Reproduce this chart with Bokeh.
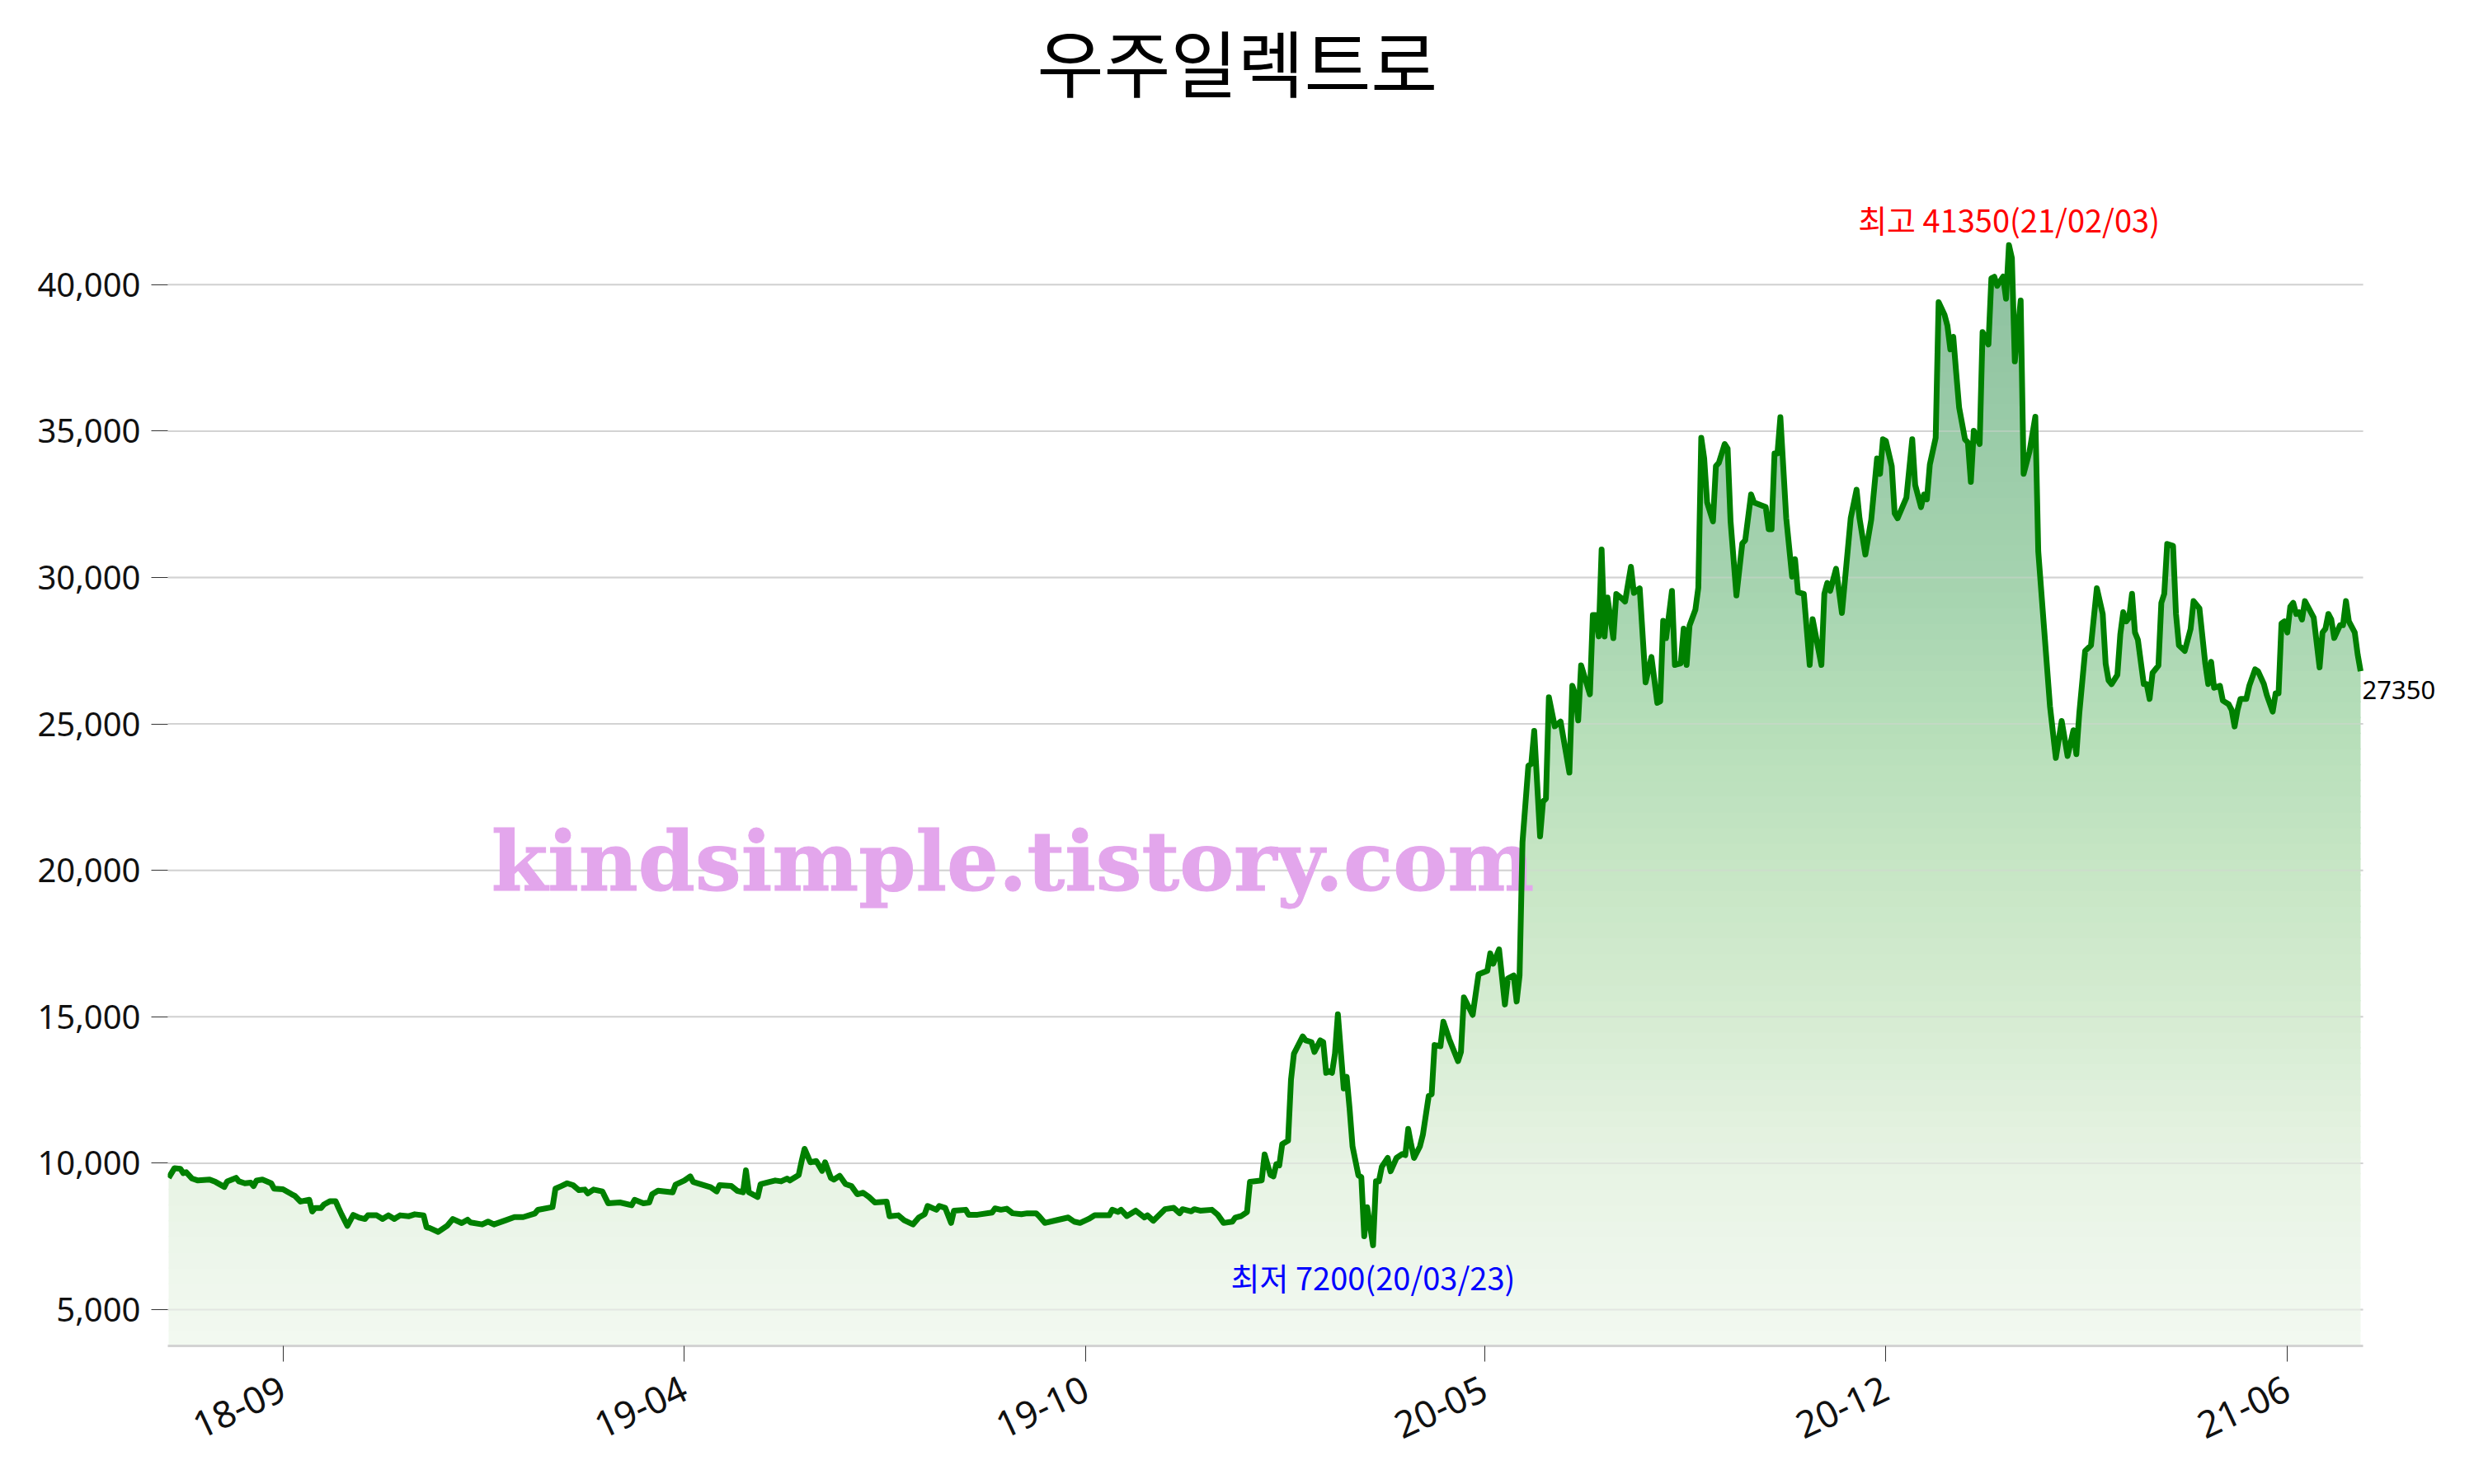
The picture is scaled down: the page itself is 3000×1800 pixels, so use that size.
import numpy as np
from bokeh.plotting import figure
from bokeh.models import Range1d, FixedTicker, NumeralTickFormatter, Label
from bokeh.core.properties import value
from bokeh.embed import file_html
from bokeh.resources import INLINE

title_text = "우주일렉트로"
watermark = "kindsimple.tistory.com"
high_date = "21/02/03"
low_date = "20/03/23"
last_close = 27350

# trading-day index and closing price
days = [0, 2, 4, 5, 6, 8, 10, 14, 16, 19, 20, 23, 24, 26, 28, 29, 30, 32, 35, 36, 39, 42, 43, 45, 48, 49, 50, 52, 53, 55,
        57, 58, 59, 61, 63, 65, 67, 68, 71, 73, 75, 77, 79, 82, 84, 87, 88, 89, 92, 95, 97, 100, 102, 103, 107, 109, 111, 115, 118, 121,
        125, 126, 131, 132, 134, 136, 138, 140, 142, 143, 145, 148, 150, 154, 158, 159, 162, 164, 165, 167, 172, 173, 176, 178, 179, 182, 185, 187, 188, 192,
        194, 196, 197, 198, 201, 202, 205, 207, 209, 211, 212, 215, 216, 217, 219, 221, 223, 224, 226, 227, 229, 231, 233, 235, 237, 239, 241, 245, 246, 249,
        251, 254, 256, 258, 259, 262, 263, 265, 267, 268, 272, 273, 276, 281, 282, 284, 286, 288, 291, 293, 296, 297, 299, 303, 307, 309, 311, 314, 316, 321,
        322, 324, 325, 327, 330, 333, 334, 336, 340, 343, 345, 346, 349, 350, 352, 356, 358, 360, 363, 364, 366, 368, 369, 373, 374, 376, 377, 378, 379, 380,
        382, 383, 384, 387, 388, 390, 391, 393, 394, 395, 396, 397, 398, 399, 401, 402, 403, 404, 406, 407, 408, 409, 411, 412, 413, 414, 416, 417, 419, 421,
        422, 423, 424, 425, 427, 428, 430, 431, 432, 434, 435, 437, 440, 441, 442, 445, 447, 450, 451, 452, 454, 456, 457, 459, 460, 461, 462, 464, 465, 466,
        468, 469, 470, 471, 473, 475, 478, 479, 480, 481, 482, 485, 486, 487, 488, 489, 490, 491, 493, 494, 496, 497, 499, 500, 502, 504, 506, 508, 509, 510,
        511, 513, 514, 516, 517, 518, 519, 521, 522, 523, 524, 525, 527, 528, 529, 531, 532, 533, 535, 537, 538, 540, 541, 545, 546, 547, 548, 549, 550, 552,
        554, 555, 556, 558, 560, 561, 564, 565, 566, 567, 569, 571, 574, 576, 577, 579, 580, 581, 583, 584, 585, 586, 588, 589, 590, 593, 595, 596, 598, 599,
        600, 601, 603, 604, 606, 607, 608, 609, 610, 611, 613, 614, 615, 616, 618, 619, 621, 622, 623, 624, 626, 627, 628, 629, 630, 632, 633, 635, 637, 638,
        640, 642, 644, 646, 648, 650, 651, 652, 654, 656, 658, 660, 661, 662, 663, 665, 666, 667, 668, 669, 670, 671, 672, 674, 675, 676, 677, 679, 680, 681,
        682, 684, 685, 686, 688, 690, 691, 693, 695, 696, 697, 698, 700, 701, 703, 704, 705, 706, 707, 709, 710, 712, 713, 715, 716, 718, 719, 720, 721, 722,
        723, 724, 725, 726, 727, 728, 729, 732, 734, 735, 736, 737, 738, 739, 741, 742, 743, 744, 746, 747, 748]

prices = [9500, 9830, 9810, 9660, 9690, 9475, 9410, 9440, 9360, 9190, 9380, 9500, 9380, 9315, 9335, 9220, 9410, 9440, 9315, 9130, 9110, 8940, 8890, 8690, 8750, 8350, 8470, 8470, 8590, 8700,
          8700, 8470, 8255, 7860, 8235, 8140, 8095, 8220, 8220, 8095, 8220, 8095, 8220, 8190, 8255, 8220, 7815, 7790, 7655, 7860, 8095, 7955, 8070, 7975, 7910, 8005, 7910, 8050, 8160, 8160,
          8285, 8405, 8500, 9130, 9220, 9315, 9250, 9080, 9100, 8970, 9100, 9035, 8630, 8660, 8565, 8750, 8630, 8660, 8940, 9060, 9005, 9270, 9410, 9550, 9360, 9270, 9175, 9035, 9250, 9220,
          9060, 9005, 9755, 9005, 8845, 9285, 9360, 9410, 9380, 9475, 9410, 9595, 10065, 10490, 10030, 10075, 9740, 10030, 9500, 9440, 9570, 9285, 9220, 8940, 8990, 8845, 8660, 8690, 8190, 8220,
          8050, 7910, 8145, 8260, 8540, 8410, 8540, 8475, 7960, 8380, 8410, 8240, 8240, 8315, 8455, 8410, 8445, 8290, 8260, 8290, 8290, 8195, 7960, 8055, 8145, 8005, 7960, 8100, 8220, 8220,
          8410, 8335, 8410, 8195, 8380, 8145, 8220, 8035, 8430, 8475, 8290, 8430, 8355, 8430, 8380, 8410, 8240, 7960, 8005, 8145, 8195, 8335, 9365, 9410, 10300, 9600, 9550, 9970, 9925, 10650,
          10770, 12850, 13740, 14330, 14195, 14135, 13800, 14195, 14135, 13085, 13145, 13085, 13740, 15085, 12550, 12950, 11860, 10575, 9585, 9525, 7505, 8495, 7200, 9385, 9385, 9880, 10180, 9725, 10180, 10315,
          10275, 11170, 10635, 10180, 10575, 10970, 12295, 12355, 14035, 13995, 14830, 14235, 13485, 13800, 15660, 15065, 16450, 16570, 17165, 16810, 17300, 15420, 16310, 16410, 15520, 16410, 20965, 23575, 23635, 24765,
          21160, 22350, 22450, 25910, 24920, 25080, 23340, 26305, 26010, 25120, 27000, 26010, 28720, 28720, 27990, 30960, 27990, 29315, 27930, 29435, 29275, 29180, 30365, 29475, 29630, 26420, 27285, 25720, 25775, 28525,
          27930, 29545, 27015, 27070, 28255, 27015, 28360, 28900, 29655, 34775, 34070, 32565, 31920, 33805, 33915, 34560, 34400, 31920, 29385, 31165, 31270, 32835, 32565, 32405, 31650, 31650, 34235, 34235, 35475, 32025,
          30030, 30625, 29495, 29440, 27015, 28580, 27015, 29440, 29815, 29545, 30300, 28790, 32025, 33000, 32025, 30785, 31380, 31970, 34070, 33535, 34720, 34665, 33805, 32190, 32025, 32725, 34720, 33160, 32405, 32835,
          32670, 33855, 34775, 39405, 38975, 38600, 37790, 38220, 36985, 35800, 34720, 34610, 33265, 35010, 34560, 38385, 37955, 40215, 40270, 39960, 40275, 39520, 41350, 40910, 37380, 39460, 33540, 34295, 35490, 30895,
          28250, 25605, 23840, 25100, 23905, 24785, 23970, 25355, 27495, 27685, 29635, 28755, 27055, 26485, 26360, 26675, 28060, 28815, 28500, 28630, 29445, 28125, 27875, 26360, 26360, 25855, 26740, 26990, 29135, 29445,
          31145, 31080, 28755, 27685, 27495, 28250, 29195, 28945, 27055, 26360, 27120, 26235, 26300, 25795, 25670, 25480, 24915, 25480, 25855, 25855, 26300, 26865, 26800, 26360, 25985, 25420, 26045, 26045, 28435, 28500,
          28125, 29005, 29135, 28755, 28815, 28565, 29195, 28630, 26930, 28125, 28250, 28755, 28565, 27935, 28375, 28375, 29195, 28500, 28125, 27370, 26800]

tick_days = [39, 176, 313, 449, 586, 723]
tick_labels = ["18-09", "19-04", "19-10", "20-05", "20-12", "21-06"]
y_ticks = [5000, 10000, 15000, 20000, 25000, 30000, 35000, 40000]

# gradient stops for the area fill (value -> rgb)
grad_v = [3761, 10000, 15000, 20000, 25000, 30000, 35000, 41350]
grad_rgb = [(243, 249, 241), (231, 243, 228), (214, 236, 210), (199, 230, 197),
            (182, 222, 185), (165, 211, 175), (154, 203, 168), (140, 191, 158)]

X0, X1 = -0.28, 781.77     # frame spans whole drawing width (labels live inside it)
AXIS_END = 748.84          # where the x axis / grid stop
Y0, Y1 = 3761, 49707

p = figure(width=2984, height=1784, output_backend="svg", toolbar_location=None,
           title_location=None,
           x_range=Range1d(X0, X1), y_range=Range1d(Y0, Y1),
           min_border_left=203, min_border_right=2, min_border_top=0, min_border_bottom=152)
p.outline_line_color = None
p.background_fill_color = "white"
p.border_fill_color = "white"
p.xgrid.visible = False
p.ygrid.visible = False

d = np.array(days, dtype=float)
v = np.array(prices, dtype=float)


def clip_poly(xs, ys, lo, hi):
    bx, by = [xs[0]], [min(max(ys[0], lo), hi)]
    for i in range(1, len(xs)):
        xa, ya, xb, yb = xs[i - 1], ys[i - 1], xs[i], ys[i]
        cs = []
        for lev in (lo, hi):
            if (ya - lev) * (yb - lev) < 0:
                t = (lev - ya) / (yb - ya)
                cs.append((t, xa + t * (xb - xa), lev))
        for t, cx, cy in sorted(cs):
            bx.append(cx)
            by.append(cy)
        bx.append(xb)
        by.append(min(max(yb, lo), hi))
    return bx, by


n_grid = len(y_ticks)
# grid lines under the fill
p.segment(x0=[X0] * n_grid, y0=y_ticks, x1=[AXIS_END] * n_grid, y1=y_ticks,
          line_color="#d3d3d3", line_width=2)

n_bands = 70
edges = np.linspace(Y0, v.max(), n_bands + 1)
for k in range(n_bands):
    lo, hi = edges[k], edges[k + 1]
    lo2 = lo - 45 if k > 0 else lo
    bx, by = clip_poly(d, v, lo2, hi)
    mid = 0.5 * (lo + hi)
    rgb = [int(round(np.interp(mid, grad_v, [c[i] for c in grad_rgb]))) for i in range(3)]
    col = "#%02x%02x%02x" % tuple(rgb)
    p.varea(x=bx, y1=lo2, y2=by, fill_color=col, fill_alpha=1.0)

# grid lines faintly over the fill
p.segment(x0=[X0] * n_grid, y0=y_ticks, x1=[AXIS_END] * n_grid, y1=y_ticks,
          line_color="#d3d3d3", line_width=2, line_alpha=0.45)

# watermark
p.text(x=[288], y=[20300], text=[watermark], text_font=value("DejaVu Serif"),
       text_font_style="bold", text_font_size="99px", text_color="#e3a6ec",
       text_outline_color="#e3a6ec",
       text_align="center", text_baseline="middle")

p.line(d, v, line_color="#008000", line_width=7, line_join="round")

imax = int(np.argmax(v))
imin = int(np.argmin(v))
p.add_layout(Label(x=d[imax], y=v[imax], text=f"최고 {int(v[imax])}({high_date})",
                   text_color="red", text_font="Noto Sans CJK KR", text_font_size="38px",
                   text_align="center", text_baseline="bottom", y_offset=4))
p.add_layout(Label(x=d[imin], y=v[imin], text=f"최저 {int(v[imin])}({low_date})",
                   text_color="blue", text_font="Noto Sans CJK KR", text_font_size="38px",
                   text_align="center", text_baseline="top", y_offset=-11))
p.add_layout(Label(x=d[-1], y=v[-1], text=str(last_close),
                   text_color="black", text_font="Noto Sans", text_font_size="31px",
                   text_align="left", text_baseline="top", x_offset=2, y_offset=-12))
p.add_layout(Label(x=364.7, y=47680, text=title_text,
                   text_color="black", text_font="Noto Sans CJK KR", text_font_size="88px",
                   text_align="center", text_baseline="middle"))

# axes
p.xaxis.bounds = (X0, AXIS_END)
p.xaxis.ticker = FixedTicker(ticks=tick_days)
p.xaxis.major_label_overrides = {t: l for t, l in zip(tick_days, tick_labels)}
p.xaxis.major_label_orientation = np.deg2rad(25)
p.xaxis.axis_line_color = "#d3d3d3"
p.xaxis.axis_line_width = 3
p.xaxis.major_tick_line_color = "#333333"
p.xaxis.major_tick_out = 19
p.xaxis.major_tick_in = 0
p.xaxis.minor_tick_line_color = None
p.xaxis.major_label_text_font = "Noto Sans"
p.xaxis.major_label_text_font_size = "45px"
p.xaxis.major_label_text_color = "#111111"
p.xaxis.major_label_standoff = 30

p.yaxis.ticker = FixedTicker(ticks=y_ticks)
p.yaxis.formatter = NumeralTickFormatter(format="0,0")
p.yaxis.axis_line_color = None
p.yaxis.major_tick_line_color = "#333333"
p.yaxis.major_tick_out = 20
p.yaxis.major_tick_in = 0
p.yaxis.minor_tick_line_color = None
p.yaxis.major_label_text_font = "Noto Sans"
p.yaxis.major_label_text_font_size = "40px"
p.yaxis.major_label_text_color = "#111111"
p.yaxis.major_label_standoff = 13

open("out.html", "w").write(file_html(p, INLINE))
